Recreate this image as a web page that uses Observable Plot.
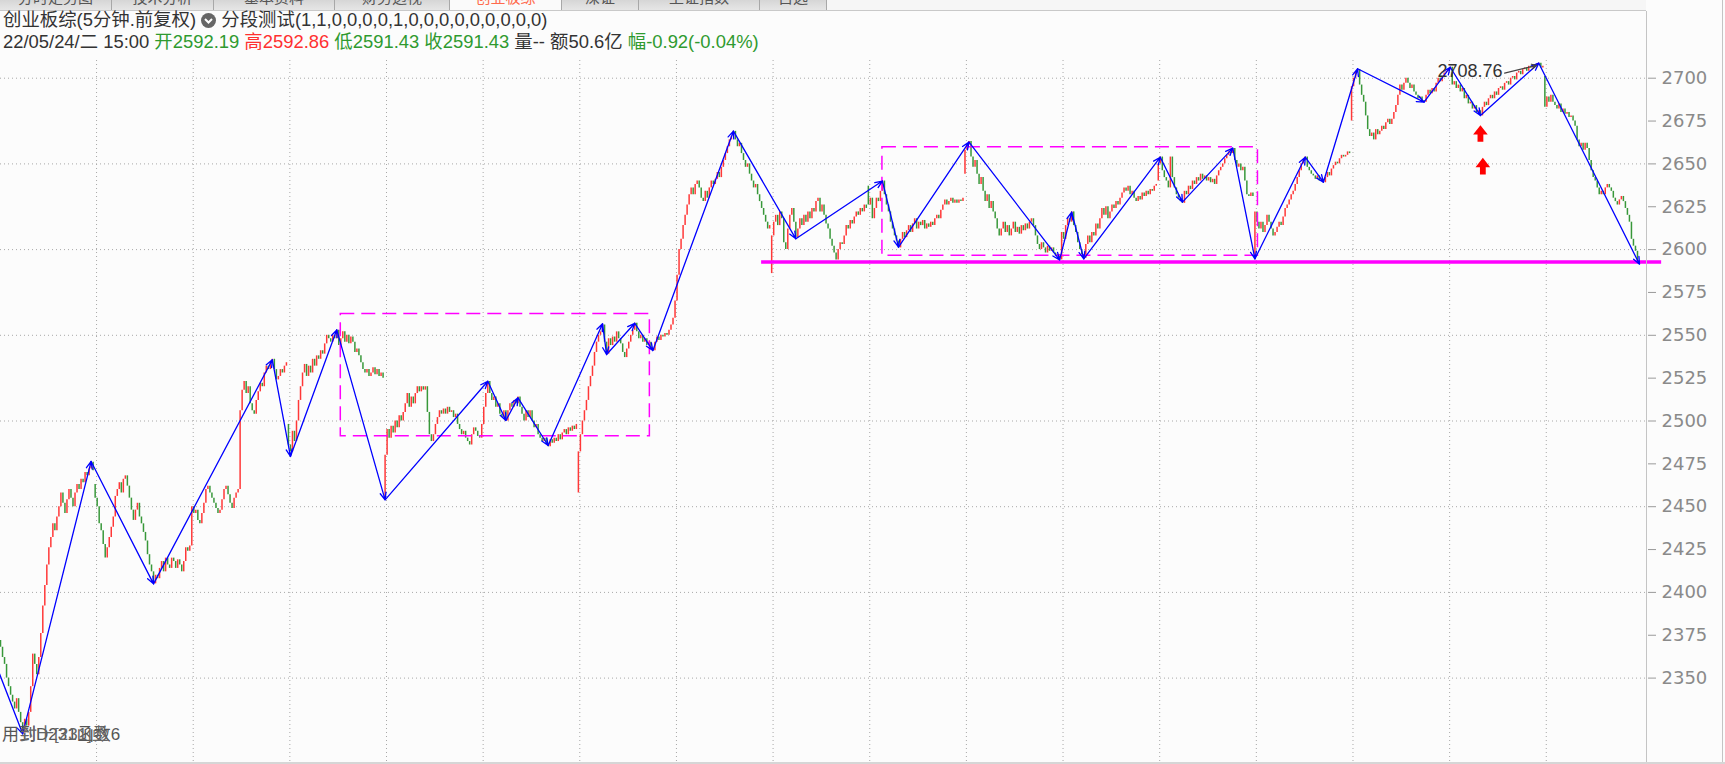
<!DOCTYPE html>
<html><head><meta charset="utf-8">
<script src="https://cdn.jsdelivr.net/npm/d3@7"></script>
<script src="https://cdn.jsdelivr.net/npm/@observablehq/plot@0.6"></script>
<style>
html,body{margin:0;padding:0;background:#fcfcfc;}
#wrap{position:relative;width:1725px;height:764px;overflow:hidden;background:#fcfcfc;font-family:"Liberation Sans","Noto Sans CJK SC",sans-serif;}
#chart{position:absolute;left:0;top:0;}
.tabs{position:absolute;left:0;top:0;height:10px;width:1646px;border-bottom:1px solid #c9c9c9;background:#f6f6f6;overflow:hidden}
.tab{position:absolute;top:0;height:10px;background:linear-gradient(#d6d6d6,#e6e6e6);border-right:1px solid #a8a8a8;overflow:hidden;font-size:15px;color:#555;}
.tab.on{background:#fafafa;color:#ff6a4c}
.tab span{position:absolute;left:0;right:0;text-align:center;top:-14px;white-space:nowrap}
.hd{position:absolute;left:3px;font-size:18.4px;line-height:22px;color:#333;white-space:nowrap}
.g{color:#2f9a2f}.r{color:#ff3030}.k{color:#333}
.vl{position:absolute;top:11px;width:1px;height:753px;background:#c4c4c4}
.btm{position:absolute;left:2px;top:724px;font-size:17px;line-height:22px;color:#555;white-space:nowrap}
</style></head>
<body>
<div id="wrap">
  <div id="chart"></div>
  <div class="tabs">
    <div class="tab" style="left:0;width:111px"><span>分时走势图</span></div>
    <div class="tab" style="left:112px;width:101px"><span>技术分析</span></div>
    <div class="tab" style="left:214px;width:120px"><span>基本资料</span></div>
    <div class="tab" style="left:335px;width:114px"><span>财务透视</span></div>
    <div class="tab on" style="left:450px;width:111px"><span>创业板综</span></div>
    <div class="tab" style="left:562px;width:76px"><span>深证</span></div>
    <div class="tab" style="left:639px;width:120px"><span>上证指数</span></div>
    <div class="tab" style="left:760px;width:66px"><span>自选</span></div>
  </div>
  <div class="vl" style="left:1646px"></div>
  <div class="vl" style="left:1722px;top:0;height:764px"></div>
  <div style="position:absolute;left:0;top:762px;width:1725px;height:2px;background:#d6d6d6"></div>
  <div class="hd" style="top:9px">创业板综(5分钟.前复权) <svg width="15" height="15" viewBox="0 0 15 15" style="vertical-align:-2px"><circle cx="7.5" cy="7.5" r="7.5" fill="#666"/><path d="M4 6 L7.5 9.5 L11 6" stroke="#fff" stroke-width="2" fill="none"/></svg> 分段测试(1,1,0,0,0,0,1,0,0,0,0,0,0,0,0,0)</div>
  <div class="hd" style="top:31px"><span class="k">22/05/24/二 15:00 </span><span class="g">开2592.19</span> <span class="r">高2592.86</span> <span class="g">低2591.43</span> <span class="g">收2591.43</span> <span class="k">量-- 额50.6亿</span> <span class="g">幅-0.92(-0.04%)</span></div>
  <div class="btm">用到D231函数6</div>
  <div class="btm" style="left:20px;color:#666">封十[231]亟</div>
</div>
<script>
// ---- 5-minute closes, one array per trading day (48 bars each) ----
const d0 = [2372,2368,2362,2358,2350,2345,2340,2336,2332,2338,2330,2324,2318,2326,2322,2330,2345,2364,2358,2352,2362,2376,2392,2404,2416,2426,2432,2440,2436,2444,2450,2458,2452,2446,2454,2460,2455,2450,2458,2463,2460,2466,2464,2470,2468,2472,2476,2471];
const d1 = [2455,2450,2440,2436,2428,2420,2426,2432,2438,2444,2456,2460,2464,2458,2466,2468,2462,2455,2448,2442,2448,2452,2444,2440,2435,2430,2422,2416,2412,2405,2410,2408,2414,2418,2412,2420,2416,2414,2420,2418,2414,2419,2416,2412,2418,2426,2424,2427];
const d2 = [2450,2446,2448,2442,2440,2446,2452,2460,2462,2458,2455,2452,2449,2446,2448,2454,2460,2462,2457,2452,2449,2455,2458,2460,2506,2518,2523,2516,2520,2510,2506,2504,2512,2517,2522,2520,2528,2532,2530,2534,2536,2530,2524,2526,2530,2528,2532,2534];
const d3 = [2486,2482,2494,2488,2500,2512,2520,2528,2533,2526,2532,2528,2536,2532,2538,2536,2541,2539,2545,2550,2548,2546,2550,2548,2553,2544,2548,2552,2546,2550,2545,2549,2546,2540,2542,2538,2534,2530,2528,2530,2526,2528,2531,2527,2530,2526,2528,2525];
const d4 = [2480,2495,2490,2497,2493,2500,2496,2503,2500,2505,2510,2516,2508,2514,2510,2516,2520,2517,2520,2518,2520,2505,2492,2488,2492,2498,2502,2506,2504,2507,2504,2508,2505,2506,2502,2504,2498,2495,2492,2494,2490,2488,2486,2492,2496,2494,2491,2490];
const d5 = [2498,2508,2516,2523,2516,2512,2514,2508,2510,2504,2502,2506,2500,2506,2510,2508,2512,2510,2514,2508,2504,2500,2506,2502,2506,2500,2496,2498,2492,2490,2488,2490,2487,2485,2489,2487,2490,2488,2492,2489,2493,2495,2492,2496,2494,2497,2495,2498];
const d6 = [2482,2492,2500,2506,2512,2520,2526,2532,2540,2546,2550,2552,2556,2546,2539,2548,2544,2549,2546,2552,2548,2545,2540,2537,2542,2546,2550,2553,2557,2552,2548,2550,2546,2548,2544,2546,2542,2541,2546,2549,2547,2550,2549,2551,2550,2553,2556,2560];
const d7 = [2570,2585,2600,2606,2614,2620,2626,2632,2636,2632,2638,2640,2636,2630,2628,2634,2630,2636,2640,2638,2641,2645,2642,2648,2652,2656,2660,2664,2666,2669,2664,2660,2662,2656,2652,2648,2650,2644,2640,2636,2638,2632,2628,2624,2620,2616,2612,2614];
const d8 = [2608,2616,2620,2614,2622,2618,2604,2600,2612,2620,2624,2616,2607,2612,2618,2614,2620,2616,2622,2618,2624,2622,2628,2630,2622,2626,2620,2615,2612,2606,2602,2598,2594,2600,2604,2603,2608,2614,2612,2617,2615,2619,2622,2620,2624,2622,2626,2624];
const d9 = [2626,2630,2618,2624,2630,2628,2634,2640,2632,2626,2622,2616,2612,2608,2605,2601,2606,2610,2607,2611,2614,2610,2615,2618,2612,2616,2614,2617,2612,2615,2613,2616,2614,2618,2620,2618,2623,2626,2629,2626,2628,2630,2627,2629,2627,2629,2628,2630];
const d10 = [2658,2661,2663,2654,2648,2652,2644,2638,2642,2634,2628,2632,2624,2628,2622,2618,2612,2608,2612,2616,2610,2614,2608,2612,2616,2610,2613,2609,2614,2611,2615,2612,2616,2618,2614,2608,2603,2600,2604,2601,2598,2602,2599,2601,2598,2596,2597,2594];
const d11 = [2610,2606,2614,2618,2616,2622,2614,2610,2604,2600,2597,2595,2603,2608,2604,2610,2608,2615,2612,2618,2624,2620,2625,2618,2622,2626,2624,2628,2626,2630,2633,2636,2634,2637,2632,2634,2630,2628,2631,2629,2633,2631,2634,2632,2635,2634,2637,2638];
const d12 = [2650,2654,2646,2642,2640,2636,2654,2642,2636,2632,2630,2628,2627,2634,2632,2637,2635,2640,2638,2642,2640,2644,2641,2643,2640,2642,2639,2641,2638,2643,2646,2648,2650,2653,2655,2657,2656,2659,2652,2648,2650,2646,2648,2640,2632,2631,2633,2631];
const d13 = [2622,2616,2612,2616,2610,2614,2620,2616,2612,2608,2610,2613,2616,2614,2619,2624,2626,2629,2632,2634,2638,2642,2646,2650,2652,2654,2648,2646,2644,2643,2641,2643,2640,2641,2639,2642,2645,2643,2647,2649,2651,2650,2653,2655,2654,2655,2657,2656];
const d14 = [2695,2700,2704,2705,2696,2690,2686,2678,2670,2666,2668,2664,2670,2667,2669,2672,2670,2674,2676,2673,2676,2680,2684,2690,2696,2693,2697,2700,2697,2694,2696,2692,2690,2688,2689,2687,2686,2690,2693,2691,2694,2692,2697,2700,2698,2701,2703,2704];
const d15 = [2705,2706.4,2696,2698,2694,2696,2692,2694,2688,2690,2685,2686,2682,2684,2680,2681,2678,2683,2686,2684,2688,2690,2688,2692,2690,2694,2695,2693,2697,2698,2696,2700,2701,2699,2703,2704,2702,2705,2706,2704,2707,2706,2708,2707,2708.5,2708.76,2706,2707];
const d16 = [2683,2689,2686,2690,2686,2684,2682,2685,2680,2682,2679,2680,2677,2678,2675,2672,2664,2660,2662,2658,2662,2659,2652,2646,2642,2640,2636,2632,2634,2632,2636,2638,2636,2634,2630,2628,2626,2629,2631,2628,2624,2620,2616,2606,2602,2599,2592.19,2591.43];

// opening prices of bars that gapped away from the previous close
const gapIdx = [0,48,144,192,288,384,432,480,576,624,672,768];
const gapOpen = [2378,2463,2498,2455,2458,2586,2637,2644,2640,2595,2675,2701];

// zigzag (分段) pivots: bar index and price
const pivotIdx = [0,12,46,77,136,145,168,192,243,252,258,273,300,302,316,325,365,396,439,447,482,527,533,539,577,588,613,624,649,658,675,708,721,736,765,815];
const pivotVal = [2354,2317.5,2476.4,2405,2535.7,2479.3,2553.2,2454,2523.2,2500.3,2513.5,2485.7,2556.7,2538.8,2557,2541.1,2669.1,2606.3,2640,2601.4,2662.7,2594,2621.8,2594.6,2653.9,2627.7,2659.2,2594.6,2653.9,2639.3,2705.5,2686,2706.4,2678.2,2708.76,2591.43];

// consolidation boxes (dashed) : start idx, end idx, low, high
const boxStart = [170, 439];
const boxEnd = [323.5, 625.5];
const boxLow = [2491.1, 2596.4];
const boxHigh = [2562.5, 2659.7];

// support line
const supportFrom = [379];
const supportTo = [826];
const supportLevel = [2592.7];

// red signal arrows
const sigIdx = [736, 737.2];
const sigVal = [2667.7, 2648.7];

// high label
const labelIdx = [714.7];
const labelVal = [2704.1];
const labelText = ["2708.76"];
const labelArrow = [{x1: 748, y1: 2703, x2: 764, y2: 2707.5}];

// axis / grid
const yTicks = [2350,2375,2400,2425,2450,2475,2500,2525,2550,2575,2600,2625,2650,2675,2700];
const yGrid = [2350,2400,2450,2500,2550,2600,2650,2700];
const daySeps = [48.7,96.7,144.7,192.7,240.7,288.7,336.7,384.7,432.7,480.7,528.7,576.7,624.7,672.7,720.7,768.7];

const closes = [d0,d1,d2,d3,d4,d5,d6,d7,d8,d9,d10,d11,d12,d13,d14,d15,d16].flat();
const bars = closes.map((c, i) => {
  const g = gapIdx.indexOf(i);
  const o = g >= 0 ? gapOpen[g] : closes[i - 1];
  return {i, o, c};
});
const segs = pivotIdx.slice(1).map((v, k) => ({x1: pivotIdx[k], y1: pivotVal[k], x2: v, y2: pivotVal[k + 1]}));
const boxes = boxStart.map((s, k) => ({x1: s, x2: boxEnd[k], y1: boxLow[k], y2: boxHigh[k]}));
const support = supportLevel.map((y, k) => ({x1: supportFrom[k], x2: supportTo[k], y}));
const sigs = sigIdx.map((x, k) => ({x, y: sigVal[k]}));
const labels = labelIdx.map((x, k) => ({x, y: labelVal[k], t: labelText[k]}));

const upArrow = {
  draw(ctx) {
    ctx.moveTo(0, -8.3);
    ctx.lineTo(7.3, 1);
    ctx.lineTo(2.9, 1);
    ctx.lineTo(2.9, 8.3);
    ctx.lineTo(-2.9, 8.3);
    ctx.lineTo(-2.9, 1);
    ctx.lineTo(-7.3, 1);
    ctx.closePath();
  }
};

const RED = "#ff3838", GREEN = "#38983a";

const chart = Plot.plot({
  width: 1725,
  height: 764,
  marginLeft: 0,
  marginRight: 78,
  marginTop: 60,
  marginBottom: 0,
  style: {background: "transparent", fontFamily: "Liberation Sans, Noto Sans CJK SC, sans-serif", color: "#8a8a8a"},
  x: {domain: [0, 815], range: [-2, 1639], axis: null},
  y: {domain: [2350, 2700], range: [677.6, 77.7], axis: null},
  marks: [
    Plot.gridY(yGrid, {stroke: "#a8a8a8", strokeOpacity: 1, strokeDasharray: "1,3"}),
    Plot.gridX(daySeps, {stroke: "#a8a8a8", strokeOpacity: 1, strokeDasharray: "1,3"}),
    Plot.ruleX(bars, {x: "i", y1: "o", y2: "c", stroke: d => d.c >= d.o ? RED : GREEN, strokeWidth: 1.5}),
    Plot.rect(boxes, {x1: "x1", x2: "x2", y1: "y1", y2: "y2", fill: "none", stroke: "#ff00ff", strokeWidth: 1.5, strokeDasharray: "14,7"}),
    Plot.ruleY(support, {x1: "x1", x2: "x2", y: "y", stroke: "#ff00ff", strokeWidth: 3.5}),
    Plot.arrow(segs, {x1: "x1", y1: "y1", x2: "x2", y2: "y2", stroke: "#0000ff", strokeWidth: 1.3, headLength: 9, headAngle: 45}),
    Plot.dot(sigs, {x: "x", y: "y", symbol: upArrow, fill: "#ff0000", stroke: "none"}),
    Plot.text(labels, {x: "x", y: "y", text: "t", textAnchor: "start", fontSize: 18, fill: "#333"}),
    Plot.arrow(labelArrow, {x1: "x1", y1: "y1", x2: "x2", y2: "y2", stroke: "#444", strokeWidth: 1.2, headLength: 7, headAngle: 50}),
    Plot.axisY(yTicks, {anchor: "right", tickSize: 8, tickPadding: 6, tickFormat: d => String(d), fontSize: 18, fontFamily: "DejaVu Sans", fill: "#8a8a8a", stroke: "#9a9a9a", label: null})
  ]
});
document.getElementById("chart").appendChild(chart);
</script>
</body></html>
